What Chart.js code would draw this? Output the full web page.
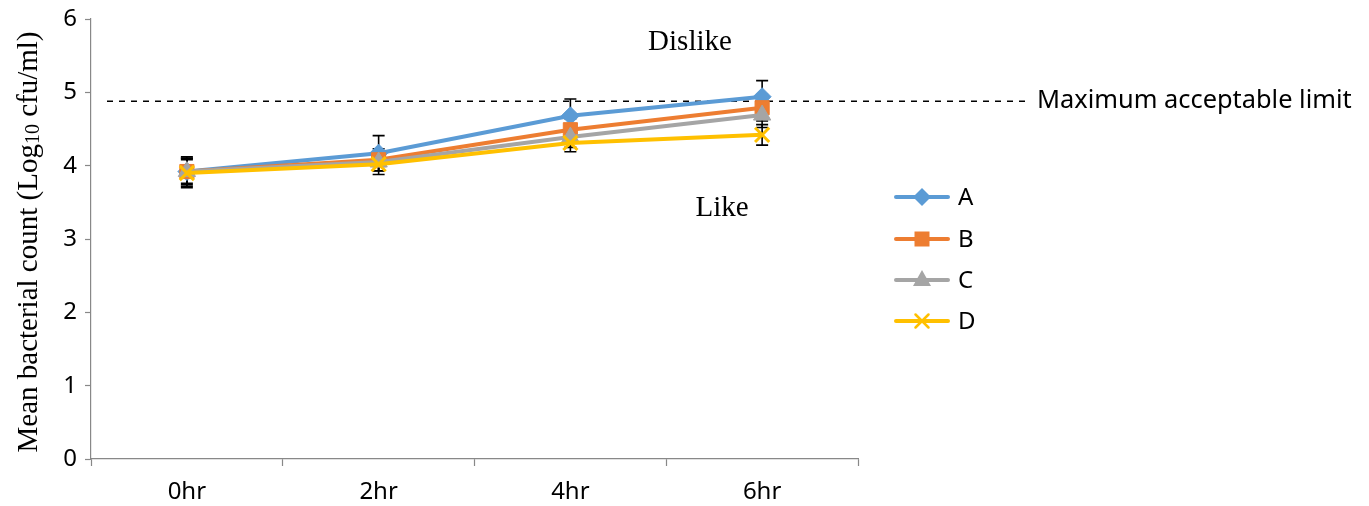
<!DOCTYPE html>
<html><head><meta charset="utf-8">
<script src="https://cdn.jsdelivr.net/npm/chart.js@4/dist/chart.umd.min.js"></script>
<style>html,body{margin:0;padding:0;background:#fff;}#wrap{width:1369px;height:506px;position:relative;}</style>
</head><body><div id="wrap"><canvas id="c" width="1369" height="506"></canvas></div>
<script>
const categories = ['0hr', '2hr', '4hr', '6hr'];
const seriesNames = ['A', 'B', 'C', 'D'];
const valuesA = [3.92, 4.17, 4.68, 4.94];
const valuesB = [3.92, 4.08, 4.49, 4.79];
const valuesC = [3.92, 4.05, 4.39, 4.69];
const valuesD = [3.90, 4.02, 4.31, 4.42];
const errA = [0.20, 0.24, 0.23, 0.22];
const errB = [0.18, 0.15, 0.15, 0.18];
const errC = [0.16, 0.12, 0.14, 0.17];
const errD = [0.20, 0.14, 0.12, 0.14];
const yTicks = [0, 1, 2, 3, 4, 5, 6];
const limitValue = 4.88;
const limitLabel = 'Maximum acceptable limit';
const yTitle = ['Mean bacterial count (Log', '10', ' cfu/ml)'];
const regionLabels = [{text: 'Dislike', value: 5.68, x: 690}, {text: 'Like', value: 3.42, x: 722}];

const colors = ['#5B9BD5', '#ED7D31', '#A5A5A5', '#FFC000'];
const markers = ['rectRot', 'rect', 'triangle', 'crossRot'];
const radii = [9, 10, 10, 10];
const allValues = [valuesA, valuesB, valuesC, valuesD];
const allErr = [errA, errB, errC, errD];
const tickFont = '"Noto Sans", sans-serif';
const serif = '"Liberation Serif", "Times New Roman", serif';

const datasets = seriesNames.map((n, i) => ({
  label: n, data: allValues[i], borderColor: colors[i], backgroundColor: colors[i],
  borderWidth: 4, pointStyle: markers[i], pointRadius: radii[i], pointHoverRadius: radii[i],
  pointBorderWidth: markers[i] === 'crossRot' ? 3 : 1, pointBorderColor: colors[i],
  order: 3 - i, tension: 0, errors: allErr[i]
}));

function drawMarker(ctx, style, x, y, r, color) {
  ctx.save();
  ctx.fillStyle = color; ctx.strokeStyle = color;
  ctx.beginPath();
  if (style === 'rectRot') {
    ctx.moveTo(x, y - r); ctx.lineTo(x + r, y); ctx.lineTo(x, y + r); ctx.lineTo(x - r, y); ctx.closePath(); ctx.fill();
  } else if (style === 'rect') {
    const s = r * 0.75; ctx.rect(x - s, y - s, 2 * s, 2 * s); ctx.fill();
  } else if (style === 'triangle') {
    ctx.moveTo(x, y - r); ctx.lineTo(x + r * 0.9, y + r * 0.6); ctx.lineTo(x - r * 0.9, y + r * 0.6); ctx.closePath(); ctx.fill();
  } else {
    const s = r * 0.65; ctx.lineWidth = 2.5;
    ctx.moveTo(x - s, y - s); ctx.lineTo(x + s, y + s); ctx.moveTo(x + s, y - s); ctx.lineTo(x - s, y + s); ctx.stroke();
  }
  ctx.restore();
}

const decor = {
  id: 'decor',
  beforeDatasetsDraw(chart) {
    const ctx = chart.ctx, xs = chart.scales.x, ys = chart.scales.y;
    ctx.save();
    ctx.strokeStyle = '#000'; ctx.lineWidth = 1.6;
    chart.data.datasets.forEach(ds => {
      ds.data.forEach((v, j) => {
        const x = xs.getPixelForValue(j);
        const y1 = ys.getPixelForValue(v + ds.errors[j]);
        const y2 = ys.getPixelForValue(v - ds.errors[j]);
        ctx.beginPath();
        ctx.moveTo(x, y1); ctx.lineTo(x, y2);
        ctx.moveTo(x - 6, y1); ctx.lineTo(x + 6, y1);
        ctx.moveTo(x - 6, y2); ctx.lineTo(x + 6, y2);
        ctx.stroke();
      });
    });
    const yl = ys.getPixelForValue(limitValue);
    ctx.setLineDash([6, 6]); ctx.lineWidth = 1.5; ctx.strokeStyle = '#000';
    ctx.beginPath(); ctx.moveTo(107, yl); ctx.lineTo(1030, yl); ctx.stroke();
    ctx.setLineDash([]);
    ctx.restore();
  },
  afterDraw(chart) {
    const ctx = chart.ctx, ys = chart.scales.y;
    ctx.save();
    const yl = ys.getPixelForValue(limitValue);
    ctx.fillStyle = '#000'; ctx.textBaseline = 'middle'; ctx.textAlign = 'left';
    ctx.font = '22px ' + tickFont;
    let w = ctx.measureText(limitLabel).width;
    const size = 22 * 315 / w;
    ctx.font = size.toFixed(1) + 'px ' + tickFont;
    ctx.fillText(limitLabel, 1037, yl);
    ctx.font = '29px ' + serif; ctx.textAlign = 'center';
    regionLabels.forEach(r => ctx.fillText(r.text, r.x, ys.getPixelForValue(r.value)));
    ctx.translate(29, 242); ctx.rotate(-Math.PI / 2);
    ctx.textAlign = 'left'; ctx.textBaseline = 'middle';
    const f1 = '29px ' + serif, f2 = '20px ' + serif;
    ctx.font = f1; const w0 = ctx.measureText(yTitle[0]).width;
    ctx.font = f2; const w1 = ctx.measureText(yTitle[1]).width;
    ctx.font = f1; const w2 = ctx.measureText(yTitle[2]).width;
    let x0 = -(w0 + w1 + w2) / 2;
    ctx.font = f1; ctx.fillText(yTitle[0], x0, 0);
    ctx.font = f2; ctx.fillText(yTitle[1], x0 + w0, 5);
    ctx.font = f1; ctx.fillText(yTitle[2], x0 + w0 + w1, 0);
    ctx.setTransform(1, 0, 0, 1, 0, 0);
    const legY = [197, 239, 280, 321];
    seriesNames.forEach((n, i) => {
      ctx.strokeStyle = colors[i]; ctx.lineWidth = 4; ctx.lineCap = 'round';
      ctx.beginPath(); ctx.moveTo(896, legY[i]); ctx.lineTo(948, legY[i]); ctx.stroke();
      drawMarker(ctx, markers[i], 922, legY[i], radii[i], colors[i]);
      ctx.fillStyle = '#000'; ctx.font = '24px ' + tickFont; ctx.textAlign = 'left'; ctx.textBaseline = 'middle';
      ctx.fillText(n, 958, legY[i] + 1);
    });
    ctx.restore();
  }
};

new Chart(document.getElementById('c'), {
  type: 'line',
  data: { labels: categories, datasets },
  options: {
    responsive: false, animation: false, devicePixelRatio: 1,
    layout: { padding: { top: 19, right: 511, left: 0, bottom: 0 } },
    plugins: { legend: { display: false }, tooltip: { enabled: false } },
    scales: {
      x: {
        offset: true,
        grid: { offset: true, drawOnChartArea: false, color: '#888', tickLength: 7, tickWidth: 1.2 },
        border: { color: '#888', width: 1.2 },
        ticks: { font: { family: tickFont, size: 24 }, color: '#000', padding: 12, maxRotation: 0 },
        afterFit: s => { s.height = 47; s.paddingLeft = 0; s.paddingRight = 0; }
      },
      y: {
        min: 0, max: 6,
        afterBuildTicks: s => { s.ticks = yTicks.map(v => ({ value: v })); },
        grid: { drawOnChartArea: false, color: '#888', tickLength: 6, tickWidth: 1.2 },
        border: { color: '#888', width: 1.2 },
        ticks: { font: { family: tickFont, size: 24 }, color: '#000', padding: 8 },
        afterFit: s => { s.width = 91; s.paddingTop = 0; s.paddingBottom = 0; }
      }
    }
  },
  plugins: [decor]
});
</script></body></html>
